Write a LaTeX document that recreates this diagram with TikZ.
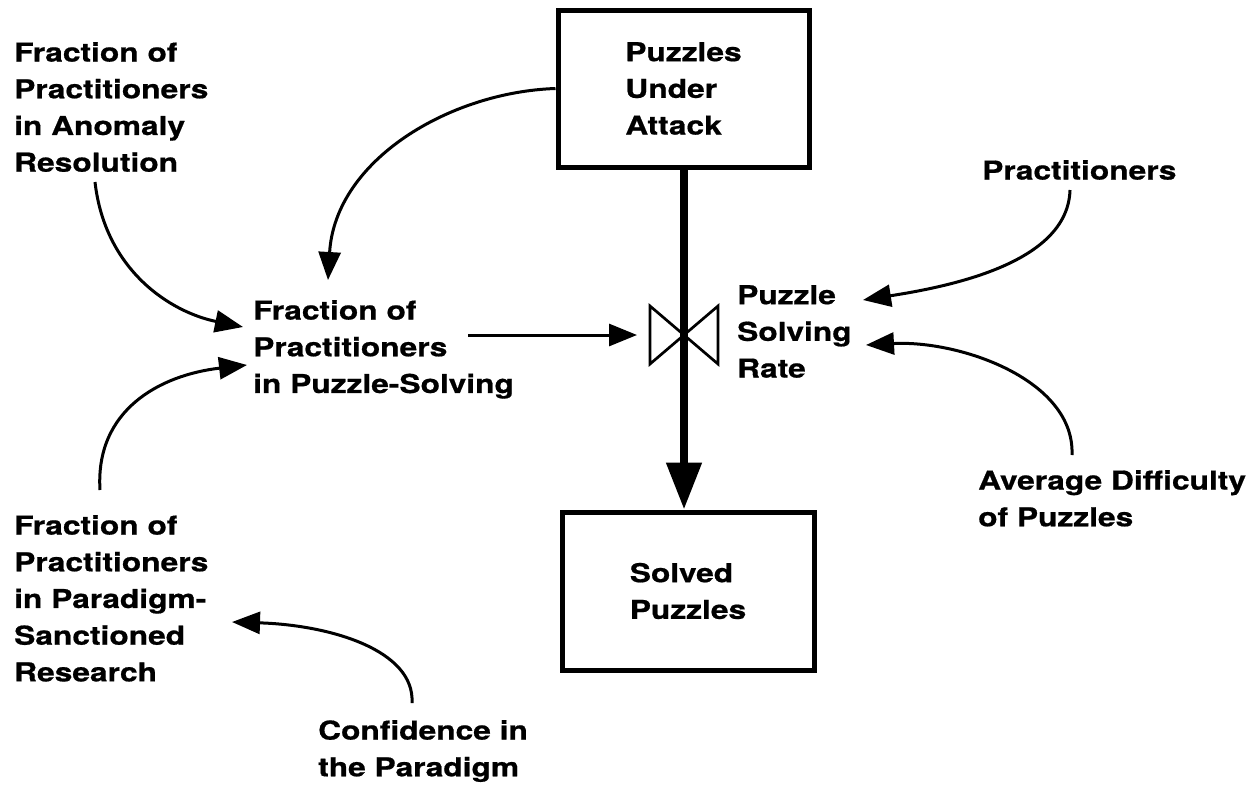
\documentclass[tikz,border=0pt]{standalone}
\usepackage{fontspec}
\setmainfont{TeX Gyre Heros}[FakeStretch=1.22, BoldFeatures={FakeBold=0.7}]
\usetikzlibrary{arrows.meta}
\begin{document}
\begin{tikzpicture}[x=1pt,y=-1pt,
  lab/.style={font=\fontsize{26}{36.7}\selectfont\bfseries, align=left, anchor=north west, inner sep=0pt},
  stock/.style={draw, line width=5pt, font=\fontsize{26}{36.7}\selectfont\bfseries, align=left, inner sep=0pt},
  link/.style={line width=3pt, -{Triangle[length=28pt,width=22pt]}},
  pipe/.style={line width=8pt, -{Triangle[length=47pt,width=34pt]}},
  valveline/.style={line width=2.7pt, line join=miter}]
\useasboundingbox (0,0) rectangle (1260,787);
% stocks
\node[stock, minimum width=251pt, minimum height=157pt] (pua) at (683.5,88.5) {Puzzles\\Under\\Attack};
\node[stock, minimum width=252pt, minimum height=158pt] (sp) at (688,591) {Solved\\Puzzles};
% labels
\node[lab] (anom) at (14,42) {Fraction of\\Practitioners\\in Anomaly\\Resolution};
\node[lab] (fps) at (253,300) {Fraction of\\Practitioners\\in Puzzle-Solving};
\node[lab] (psr) at (737,285) {Puzzle\\Solving\\Rate};
\node[lab] (prac) at (982,160) {Practitioners};
\node[lab] (avg) at (978,470) {Average Difficulty\\of Puzzles};
\node[lab] (par) at (14,515) {Fraction of\\Practitioners\\in Paradigm-\\Sanctioned\\Research};
\node[lab] (conf) at (318,720) {Confidence in\\the Paradigm};
% valve
\coordinate (valve) at (684,335);
\draw[valveline] (valve) -- (650,306) -- (650,364) -- cycle;
\draw[valveline] (valve) -- (718,306) -- (718,364) -- cycle;
% pipe
\draw[pipe] (pua.south -| valve) -- (sp.north -| valve);
% connector end points
\coordinate (a1) at (95,182);
\coordinate (t1) at (243,327);
\coordinate (a2) at (100,490);
\coordinate (t2) at (247,365);
\coordinate (a3) at (412,703);
\coordinate (t3) at (232,622);
\coordinate (a4) at (1070,190);
\coordinate (t4) at (863,300);
\coordinate (a5) at (1072,455);
\coordinate (t5) at (866,345);
\coordinate (a6) at (468,335);
\coordinate (t6) at (637,335);
\coordinate (t7) at (328,280);
% links
\draw[link] (pua.west) .. controls (450,92) and (335,160) .. (t7);
\draw[link] (a1) .. controls (105,270) and (170,312) .. (t1);
\draw[link] (a2) .. controls (95,410) and (160,375) .. (t2);
\draw[link] (a3) .. controls (415,650) and (330,625) .. (t3);
\draw[link] (a4) .. controls (1068,260) and (960,285) .. (t4);
\draw[link] (a5) .. controls (1075,380) and (960,340) .. (t5);
\draw[link] (a6) -- (t6);
\end{tikzpicture}
\end{document}
